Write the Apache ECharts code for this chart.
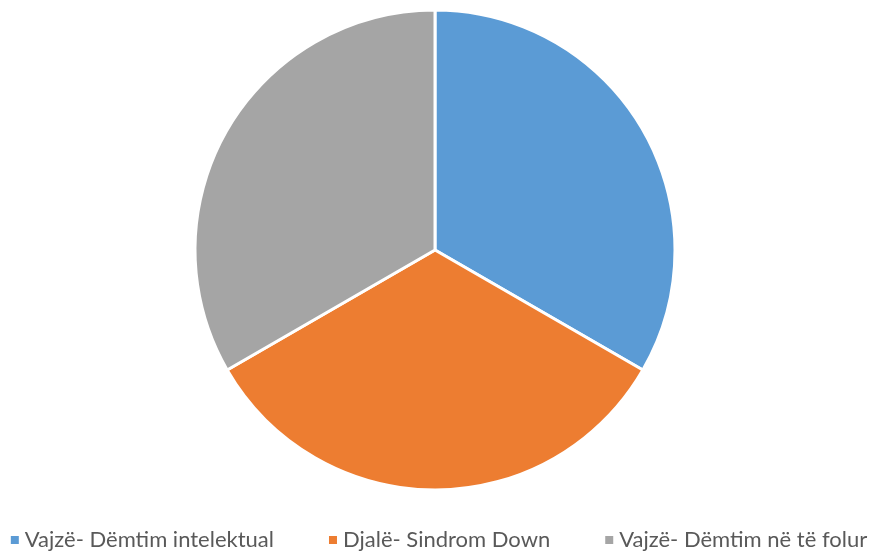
<!DOCTYPE html>
<html>
<head>
<meta charset="utf-8">
<script src="https://cdn.jsdelivr.net/npm/echarts@6/dist/echarts.min.js"></script>
<style>
  html, body { margin: 0; padding: 0; background: #fff; }
  #chart { width: 876px; height: 556px; }
</style>
</head>
<body>
<div id="chart"></div>
<script>
  // kategorite dhe vlerat
  var categories = ['Vajzë- Dëmtim intelektual', 'Djalë- Sindrom Down', 'Vajzë- Dëmtim në të folur'];
  var values = [1, 1, 1];
  var colors = ['#5B9BD5', '#ED7D31', '#A5A5A5'];

  var chart = echarts.init(document.getElementById('chart'));
  chart.setOption({
    animation: false,
    color: colors,
    legend: {
      top: 529,
      left: 'center',
      padding: 0,
      itemWidth: 10,
      itemHeight: 10,
      itemGap: 53,
      icon: 'rect',
      textStyle: { fontFamily: 'Lato', fontSize: 22, color: '#595959' },
      data: categories
    },
    series: [{
      type: 'pie',
      center: [435, 250],
      radius: [0, 240],
      startAngle: 90,
      clockwise: true,
      label: { show: false },
      labelLine: { show: false },
      itemStyle: { borderColor: '#fff', borderWidth: 3 },
      emphasis: { disabled: true },
      data: categories.map(function (c, i) { return { name: c, value: values[i] }; })
    }]
  });
</script>
</body>
</html>
